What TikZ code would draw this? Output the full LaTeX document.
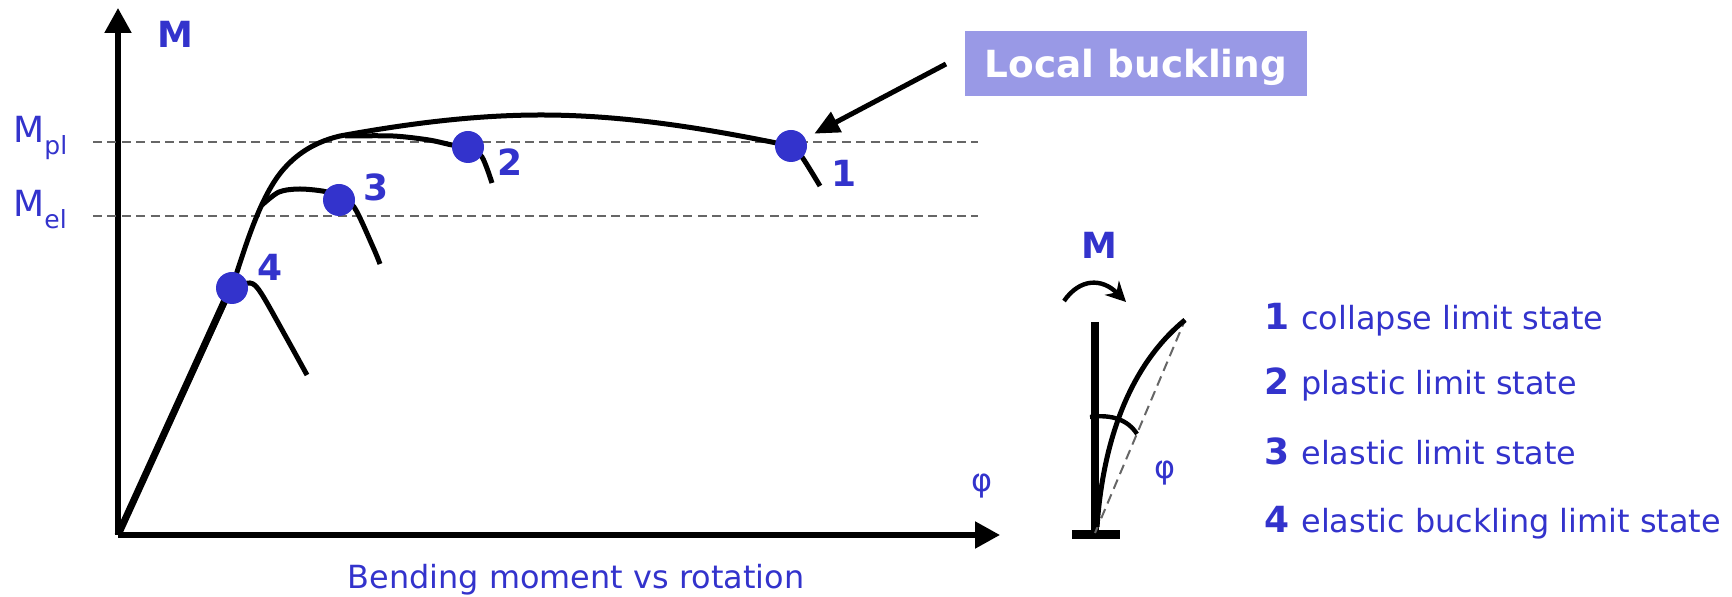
\documentclass[tikz,border=0pt]{standalone}
\usepackage{xcolor}
\usepackage{fontspec}
\setmainfont{DejaVu Sans}
\usepackage{tikz}
\usetikzlibrary{arrows.meta,positioning,shapes.geometric,calc}
\definecolor{stateblue}{HTML}{3333CC}
\definecolor{boxblue}{HTML}{9999E6}
\definecolor{dashgrey}{HTML}{666666}
\newcommand{\lowtxt}[1]{\raisebox{-6pt}{\fontsize{12.5}{13}\selectfont #1}}
\tikzset{
  axisline/.style={draw=black,line width=2.6pt,-{Triangle[length=12.5pt,width=13pt]}},
  curveline/.style={draw=black,line width=2.5pt,smooth},
  limitline/.style={draw=dashgrey,line width=1.35pt,dash pattern=on 4.5pt off 2.7pt},
  statedot/.style={circle,fill=stateblue,minimum size=16pt,inner sep=0pt},
  numlabel/.style={text=stateblue,font=\fontsize{18}{21}\selectfont\bfseries,inner sep=0pt},
  bluelabel/.style={text=stateblue,font=\fontsize{15.95}{19}\selectfont,inner sep=0pt,anchor=base west},
}

\begin{document}
\begin{tikzpicture}[x=0.5pt,y=-0.5pt]
  \useasboundingbox (0,0) rectangle (1732,597);
  % axes
  \coordinate (origin) at (118,535);
  \coordinate (ytip) at (118,8);
  \coordinate (xtip) at (1000,535);
  \draw[axisline] (origin) -- (ytip);
  \draw[axisline] (origin) -- (xtip);
  \coordinate (plstart) at (93,142);
  \coordinate (plend) at (978,142);
  \coordinate (elstart) at (93,216);
  \coordinate (elend) at (978,216);
  \draw[limitline] (plstart) -- (plend);
  \draw[limitline] (elstart) -- (elend);
  \node[bluelabel,font=\fontsize{18}{21}\selectfont] (mplabel) at (13,143) {M\lowtxt{pl}};
  \node[bluelabel,font=\fontsize{18}{21}\selectfont] (melabel) at (13,217) {M\lowtxt{el}};
  \node[numlabel] (mlabel) at (175,34) {M};
  \node[bluelabel,anchor=center] (philabel) at (982,486) {φ};
  \node[bluelabel,anchor=center] (caption) at (576,580) {Bending moment vs rotation};
  % curves
  \draw[black,line width=2.5pt] (origin) -- (232,287) .. controls (243,255) and (258,200) .. (282,171)
    .. controls (293,158) and (310,143) .. (340,136) .. controls (400,125) and (470,115) .. (541,115)
    .. controls (620,115) and (700,127) .. (791,146);
  \draw[curveline] plot coordinates {(791,146) (802,157) (820,186)};
  \draw[curveline] plot coordinates {(345,136) (393,136) (429,140) (452,145) (468,147) (482,157) (492,183)};
  \draw[curveline] plot coordinates {(262,205) (279,192) (300,189) (327,192) (339,200) (354,207) (373,247) (380,264)};
  \draw[curveline] plot coordinates {(232,288) (250,283) (261,293) (286,337) (307,375)};
  \draw[draw=black,line width=3.5pt] (origin) -- (225,300);
  % points
  \node[statedot] (dotone) at (791,146) {};
  \node[statedot] (dottwo) at (468,147) {};
  \node[statedot] (dotthree) at (339,200) {};
  \node[statedot] (dotfour) at (232,288) {};
  \node[numlabel] (numone) at (844,173) {1};
  \node[numlabel] (numtwo) at (510,162) {2};
  \node[numlabel] (numthree) at (376,187) {3};
  \node[numlabel] (numfour) at (270,267) {4};
  % local buckling
  \fill[boxblue] (965,31) rectangle (1307,96);
  \node[text=white,font=\fontsize{18.7}{22}\selectfont\bfseries,inner sep=0pt,anchor=base] (bucklabel) at (1136,78) {Local buckling};
  \coordinate (buckstart) at (946,64);
  \draw[black,line width=2.5pt,-{Triangle[length=12.5pt,width=11pt]},shorten >=5pt] (buckstart) -- (dotone);
  % beam
  \coordinate (beamtop) at (1095,322);
  \coordinate (beambase) at (1095,533);
  \coordinate (beamtip) at (1185,320);
  \draw[black,line width=4pt] (beamtop) -- (beambase);
  \fill[black] (1072,530) rectangle (1120,539);
  \draw[limitline,line width=1pt,dash pattern=on 5pt off 3pt] (beambase) -- (beamtip);
  \draw[black,line width=2.5pt] (1097,527) .. controls (1103,440) and (1130,365) .. (beamtip);
  \coordinate (arcleft) at (1090,417);
  \coordinate (arcright) at (1137,434);
  \draw[black,line width=2.2pt] (arcleft) .. controls (1112,414) and (1128,420) .. (arcright);
  \coordinate (momleft) at (1064,301);
  \coordinate (momright) at (1126,302);
  \draw[black,line width=2.2pt,-{Stealth[length=10pt,width=10pt]}] (momleft) .. controls (1080,278) and (1102,278) .. (momright);
  \node[numlabel] (beamlabel) at (1099,245) {M};
  \node[bluelabel,anchor=center] (beamphi) at (1165,473) {φ};
  % legend
  \foreach \num/\txt/\ypos in {1/collapse limit state/330,2/plastic limit state/395,3/elastic limit state/465,4/elastic buckling limit state/532}{
    \node[numlabel,anchor=base west] (num\num) at (1264,\ypos) {\num};
    \node[bluelabel] (txt\num) at (1301,\ypos) {\txt};
  }
\end{tikzpicture}
\end{document}
